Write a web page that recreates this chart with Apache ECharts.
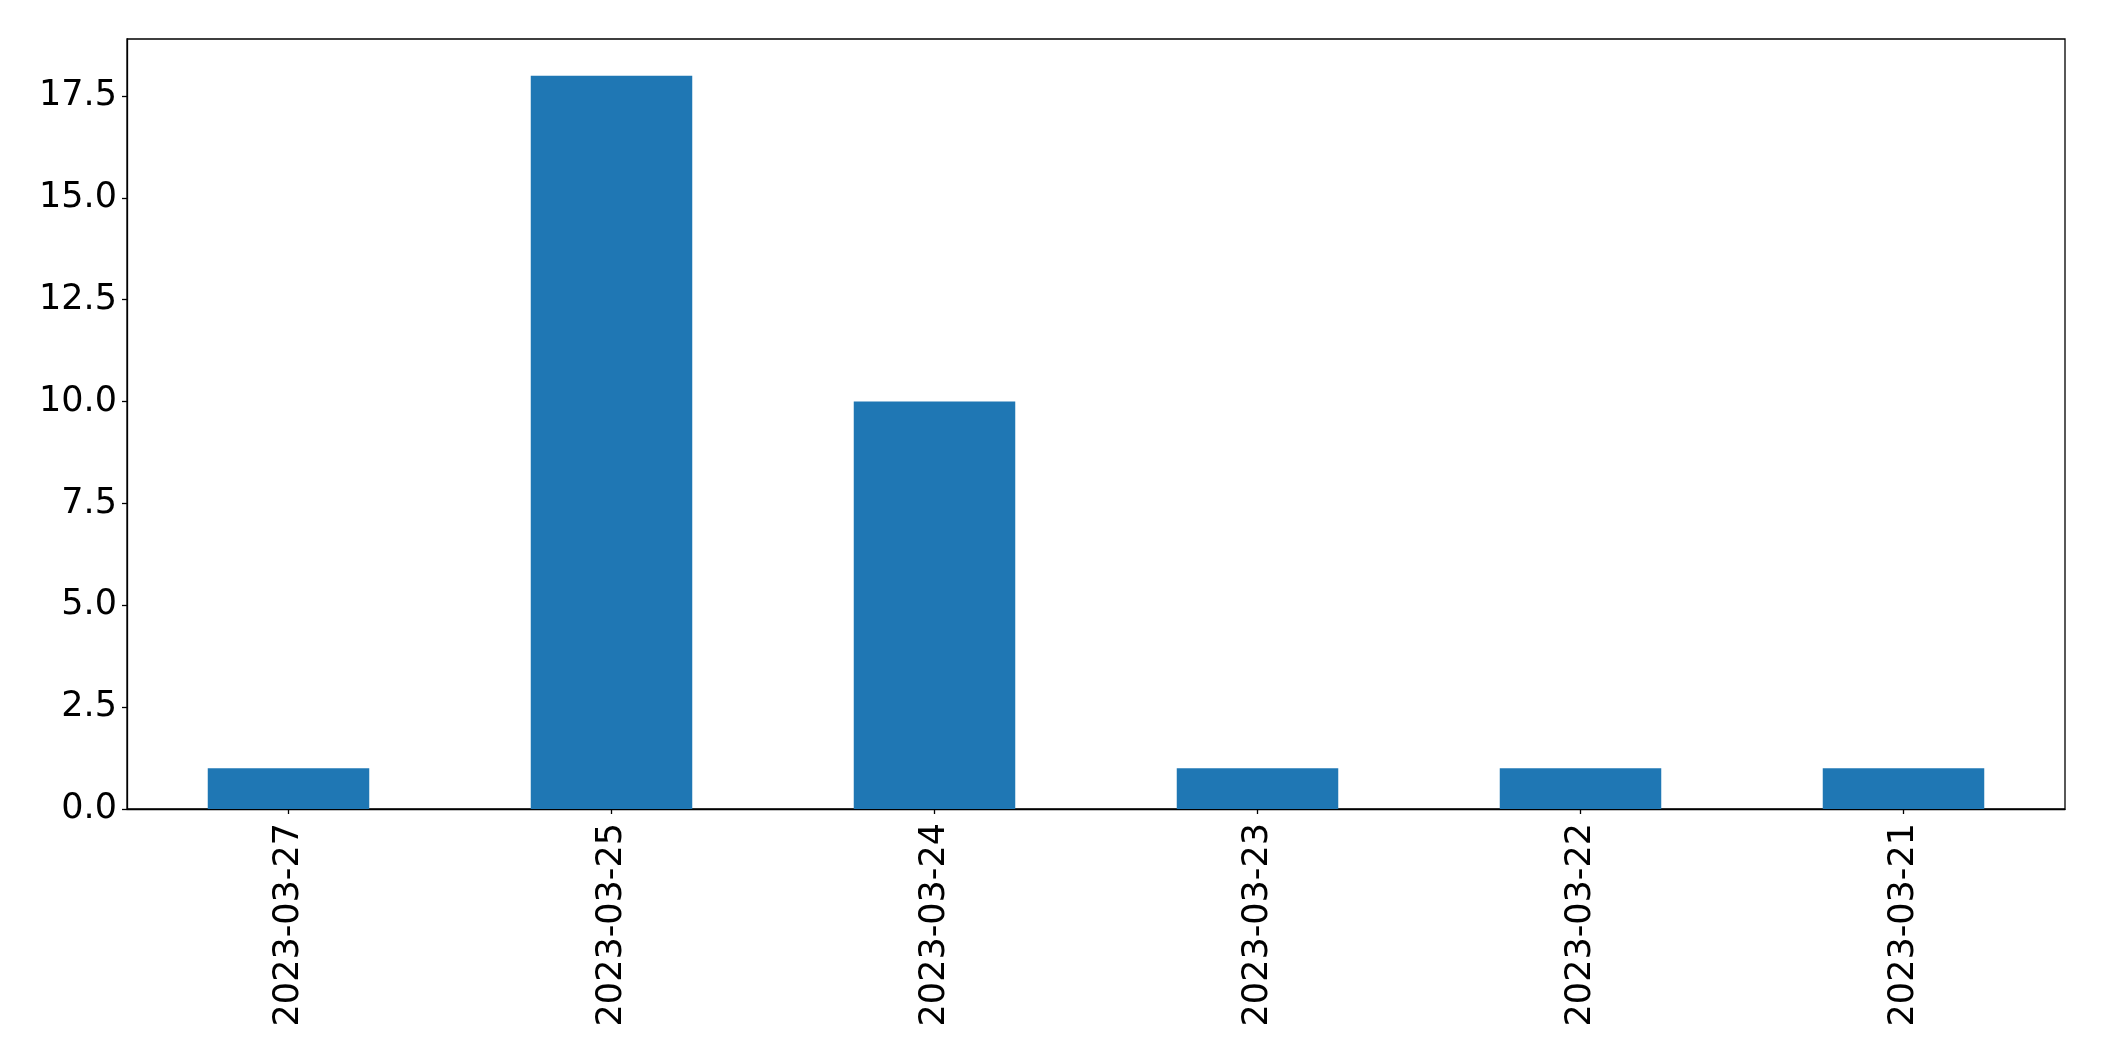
<!DOCTYPE html>
<html>
<head>
<meta charset="utf-8">
<script src="https://cdn.jsdelivr.net/npm/echarts@6/dist/echarts.min.js"></script>
<style>
html, body { margin: 0; padding: 0; background: #fff; }
#chart { width: 2104px; height: 1061px; }
</style>
</head>
<body>
<div id="chart"></div>
<script>
const categories = ['2023-03-27', '2023-03-25', '2023-03-24', '2023-03-23', '2023-03-22', '2023-03-21'];
const values = [1, 18, 10, 1, 1, 1];
const yTicks = [0, 2.5, 5, 7.5, 10, 12.5, 15, 17.5];
const yMax = 18.9;

const chart = echarts.init(document.getElementById('chart'), null, { renderer: 'canvas' });
const font = 'DejaVu Sans';
chart.setOption({
  animation: false,
  backgroundColor: '#ffffff',
  grid: {
    left: 127, right: 39, top: 39, bottom: 252,
    show: true, borderColor: '#000', borderWidth: 1.3, backgroundColor: 'transparent'
  },
  xAxis: {
    type: 'category',
    data: categories,
    boundaryGap: true,
    axisLine: { show: true, lineStyle: { color: '#000', width: 1.3 } },
    axisTick: { show: true, alignWithLabel: true, length: 5, lineStyle: { color: '#000', width: 1.3 } },
    axisLabel: { rotate: 90, margin: 14, color: '#000', fontFamily: font, fontSize: 35 },
    splitLine: { show: false }
  },
  yAxis: {
    type: 'value',
    min: 0, max: yMax,
    axisLine: { show: true, lineStyle: { color: '#000', width: 1.3 } },
    axisTick: { show: true, length: 5, lineStyle: { color: '#000', width: 1.3 }, customValues: yTicks },
    axisLabel: {
      color: '#000', fontFamily: font, fontSize: 35, margin: 10,
      customValues: yTicks,
      formatter: v => Number(v).toFixed(1)
    },
    splitLine: { show: false }
  },
  series: [{
    type: 'bar',
    data: values,
    barWidth: '50%',
    itemStyle: { color: '#1f77b4' }
  }]
});
</script>
</body>
</html>
